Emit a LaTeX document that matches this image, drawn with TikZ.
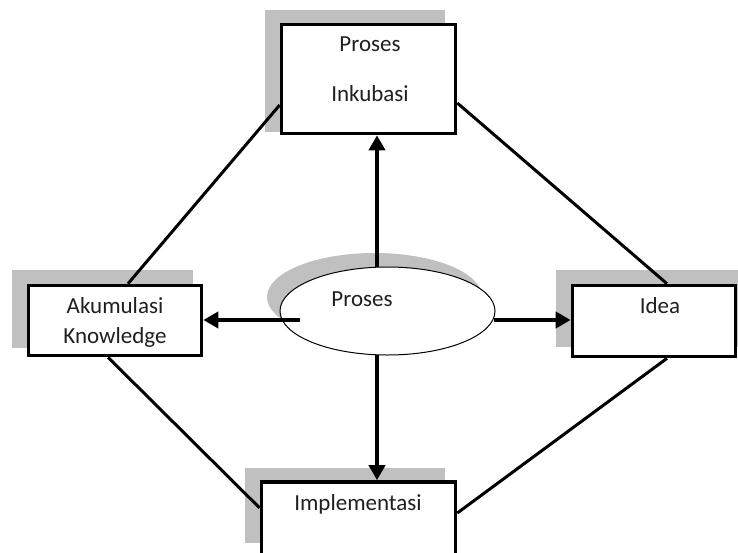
\documentclass[tikz,border=0pt]{standalone}
\usepackage{fontspec}
\setmainfont{Carlito}
\usetikzlibrary{arrows.meta,shapes.geometric,calc}
\definecolor{shade}{RGB}{192,192,192}
\tikzset{
  boxnode/.style={draw=black,line width=3.6pt,fill=white,rectangle,inner sep=0pt},
  txt/.style={font=\fontsize{23}{27}\selectfont,text=black!88,inner sep=0pt,text height=0.65em,text depth=0pt},
  link/.style={line width=3pt,black},
  arr/.style={line width=4pt,black,-{Triangle[length=15pt,width=16pt]}},
  shadowfill/.style={fill=shade,draw=none}
}
\begin{document}
\begin{tikzpicture}[x=1pt,y=-1pt]
\useasboundingbox (0,0) rectangle (738,552);
% shadows
\fill[shadowfill] (265,10) rectangle (445,132);
\fill[shadowfill] (12,270) rectangle (193,348);
\fill[shadowfill] (556,270) rectangle (738,347);
\fill[shadowfill] (245,468) rectangle (445,543);
\fill[shadowfill] (374.5,297) ellipse [x radius=107.5, y radius=44];
% boxes
\node[boxnode,minimum width=174pt,minimum height=109pt] (top) at (368.5,79) {};
\node[boxnode,minimum width=173pt,minimum height=70pt] (left) at (115,320.5) {};
\node[boxnode,minimum width=163pt,minimum height=71pt] (right) at (654,321) {};
\node[boxnode,minimum width=194pt,minimum height=80pt] (bottom) at (358.5,522) {};
\node[ellipse,draw=black,line width=1pt,fill=white,minimum width=215pt,minimum height=88pt,inner sep=0pt] (ell) at (387.5,311) {};
% texts
\node[txt] (t1) at (370,48) {Proses};
\node[txt] (t2) at (370,98) {Inkubasi};
\node[txt] (l1) at (115,310) {Akumulasi};
\node[txt] (l2) at (115,340) {Knowledge};
\node[txt] (r1) at (660,310) {Idea};
\node[txt] (b1) at (358,507) {Implementasi};
\node[txt] (e1) at (362,303) {Proses};
% diagonal links
\draw[link] ([yshift=-26pt]top.west) -- ([xshift=13pt]left.north);
\draw[link] ([yshift=-24pt]top.east) -- ([xshift=13pt]right.north);
\draw[link] ([xshift=-7pt]left.south) -- ([yshift=14pt]bottom.west);
\draw[link] ([yshift=9pt]bottom.east) -- ([xshift=13pt]right.south);
% arrows
\coordinate (vx) at (377,0);
\coordinate (la) at (300,320);
\coordinate (ra) at (494,320);
\draw[arr] (vx |- ell.north) -- (vx |- top.south);
\draw[arr] ([yshift=1pt]vx |- ell.south) -- (vx |- bottom.north);
\draw[arr] (la) -- (la -| left.east);
\draw[arr] (ra) -- (ra -| right.west);
\end{tikzpicture}
\end{document}
